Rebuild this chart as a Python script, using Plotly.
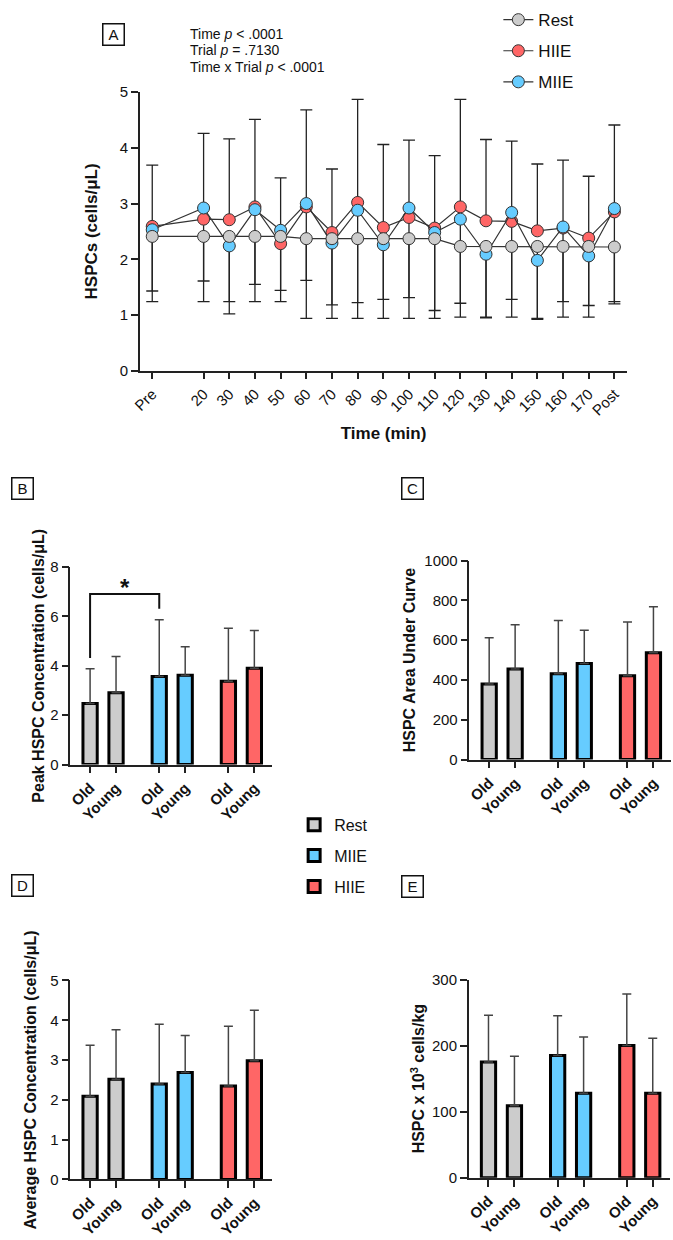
import plotly.graph_objects as go

W, H = 673, 1240
FONT = "Liberation Sans, Arial, Helvetica, sans-serif"

# ---------------- Panel A data ----------------
time_labels = ["Pre", "20", "30", "40", "50", "60", "70", "80", "90", "100",
               "110", "120", "130", "140", "150", "160", "170", "Post"]
time_min = [0, 20, 30, 40, 50, 60, 70, 80, 90, 100, 110, 120, 130, 140, 150, 160, 170, 180]

rest_mean = [2.41, 2.41, 2.41, 2.41, 2.41, 2.37, 2.37, 2.37, 2.37, 2.37,
             2.37, 2.23, 2.23, 2.23, 2.23, 2.23, 2.23, 2.22]
rest_sd_below = [1.17, 1.17, 1.17, 1.17, 1.17, 1.43, 1.43, 1.43, 1.43, 1.43,
                 1.43, 1.27, 1.27, 1.27, 1.29, 1.27, 1.27, 1.02]

hiie_mean = [2.59, 2.72, 2.71, 2.94, 2.28, 2.94, 2.48, 3.02, 2.57, 2.75,
             2.56, 2.94, 2.69, 2.68, 2.51, 2.56, 2.38, 2.85]
hiie_sd_above = [1.10, 1.54, 1.45, 1.57, 1.18, 1.74, 1.14, 1.85, 1.49, 1.39,
                 1.30, 1.93, 1.46, 1.44, 1.20, 1.22, 1.11, 1.56]

miie_mean = [2.53, 2.92, 2.24, 2.89, 2.52, 3.00, 2.29, 2.88, 2.26, 2.92,
             2.48, 2.72, 2.09, 2.84, 1.98, 2.58, 2.06, 2.91]
miie_sd_below = [1.10, 1.31, 1.22, 1.34, 1.08, 1.38, 1.11, 1.66, 0.98, 1.61,
                 1.40, 1.51, 1.14, 1.56, 1.06, 1.34, 0.89, 1.67]

stats_lines = ["Time <i>p</i> < .0001", "Trial <i>p</i> = .7130", "Time x Trial <i>p</i> < .0001"]

# ---------------- Panels B-E data (order: Rest Old, Rest Young, MIIE Old, MIIE Young, HIIE Old, HIIE Young)
groups = ["Rest", "MIIE", "HIIE"]
ages = ["Old", "Young"]

peak_mean = [2.47, 2.91, 3.57, 3.62, 3.37, 3.90]
peak_sd = [1.41, 1.46, 2.29, 1.15, 2.15, 1.53]

auc_mean = [380, 455, 431, 483, 422, 537]
auc_sd = [233, 223, 268, 167, 269, 231]

avg_mean = [2.09, 2.52, 2.40, 2.69, 2.35, 2.98]
avg_sd = [1.28, 1.24, 1.50, 0.93, 1.50, 1.27]

kg_mean = [175, 109, 185, 128, 200, 128]
kg_sd = [71, 75, 60, 85, 78, 83]

COL = {"Rest": "#cccccc", "MIIE": "#66ccff", "HIIE": "#ff6666"}
AX = "#222222"

# layout helpers (pixel -> paper)
def fx(p):
    return p / W

def fy(p):
    return 1 - p / H

GROUP_STEP = 2.665
def bar_pos(g, a):
    return g * GROUP_STEP + a

fig = go.Figure()

# ---------- Panel A: error bars first (drawn beneath markers) ----------
n = len(time_min)
for mean, up, down in [(hiie_mean, hiie_sd_above, [0] * n),
                       (miie_mean, [0] * n, miie_sd_below),
                       (rest_mean, [0] * n, rest_sd_below)]:
    fig.add_trace(go.Scatter(
        x=time_min, y=mean, mode="markers",
        marker=dict(size=1, color="rgba(0,0,0,0)"),
        error_y=dict(type="data", symmetric=False, array=up, arrayminus=down,
                     color=AX, thickness=1.3, width=6),
        showlegend=False, hoverinfo="skip", xaxis="x", yaxis="y"))

for name, mean, rank in [("HIIE", hiie_mean, 2), ("MIIE", miie_mean, 3), ("Rest", rest_mean, 1)]:
    fig.add_trace(go.Scatter(
        x=time_min, y=mean, mode="lines+markers", name=name,
        line=dict(color="#333333", width=1.2),
        marker=dict(size=12, color=COL[name], line=dict(color="#333333", width=1)),
        legend="legend", legendrank=rank, legendgroup="A_" + name,
        xaxis="x", yaxis="y"))

# ---------- Panels B-E bars ----------
panels = [("x2", "y2", peak_mean, peak_sd, True),
          ("x3", "y3", auc_mean, auc_sd, False),
          ("x4", "y4", avg_mean, avg_sd, False),
          ("x5", "y5", kg_mean, kg_sd, False)]
for xa, ya, means, sds, show in panels:
    for g, grp in enumerate(groups):
        fig.add_trace(go.Bar(
            x=[bar_pos(g, 0), bar_pos(g, 1)], y=means[2 * g:2 * g + 2],
            width=0.55, name=grp,
            marker=dict(color=COL[grp], line=dict(color="black", width=3)),
            error_y=dict(type="data", symmetric=False, array=sds[2 * g:2 * g + 2],
                         arrayminus=[0, 0], color="#444444", thickness=1.5, width=4.5),
            showlegend=show, legend="legend2", legendgroup="B_" + grp,
            xaxis=xa, yaxis=ya))

bar_ticks = [bar_pos(g, a) for g in range(3) for a in range(2)]
bar_ticktext = [ages[a] for g in range(3) for a in range(2)]

common = dict(showline=True, linecolor=AX, linewidth=1.5, ticks="outside",
              ticklen=7, tickwidth=1.5, tickcolor=AX, showgrid=False, zeroline=False)

def bar_x(dom):
    return dict(common, domain=dom, range=[-0.76, 7.0], tickvals=bar_ticks,
                ticktext=bar_ticktext, tickangle=-45,
                tickfont=dict(family=FONT, size=15, color="#111", weight="bold"))

def bar_y(dom, rng, dtick, title, standoff):
    return dict(common, domain=dom, range=rng, dtick=dtick, tick0=0,
                tickfont=dict(family=FONT, size=15, color="#111"),
                title=dict(text=title, standoff=standoff,
                           font=dict(family=FONT, size=16, color="#111", weight="bold")))

fig.update_layout(
    width=W, height=H, margin=dict(l=0, r=0, t=0, b=0),
    paper_bgcolor="white", plot_bgcolor="white", barmode="overlay",
    font=dict(family=FONT, color="#111"),
    xaxis=dict(common, domain=[fx(132.7), fx(626.6)], range=[-4.8, 185],
               tickvals=time_min, ticktext=time_labels, tickangle=-45,
               tickfont=dict(family=FONT, size=15, color="#111"),
               title=dict(text="Time (min)", standoff=10,
                          font=dict(family=FONT, size=17, color="#111", weight="bold")),
               anchor="y"),
    yaxis=dict(common, domain=[fy(366.7), fy(84.3)], range=[0, 5], dtick=1,
               tickfont=dict(family=FONT, size=15, color="#111"),
               title=dict(text="HSPCs (cells/μL)", standoff=18,
                          font=dict(family=FONT, size=17, color="#111", weight="bold")),
               anchor="x"),
    xaxis2=dict(bar_x([fx(62.2), fx(266.3)]), anchor="y2"),
    yaxis2=dict(bar_y([fy(766.1), fy(565.7)], [0, 8], 2, "Peak HSPC Concentration (cells/μL)", 2), anchor="x2"),
    xaxis3=dict(bar_x([fx(466.7), fx(670.8)]), anchor="y3"),
    yaxis3=dict(bar_y([fy(761.05), fy(559.3)], [0, 1000], 200, "HSPC Area Under Curve", 5), anchor="x3"),
    xaxis4=dict(bar_x([fx(62.2), fx(266.3)]), anchor="y4"),
    yaxis4=dict(bar_y([fy(1186.7), fy(985)], [0, 5], 1, "Average HSPC Concentration (cells/μL)", 10), anchor="x4"),
    xaxis5=dict(bar_x([fx(466.0), fx(670.1)]), anchor="y5"),
    yaxis5=dict(bar_y([fy(1185), fy(984)], [0, 300], 100, "HSPC x 10<sup>3</sup> cells/kg", 3), anchor="x5"),
    legend=dict(x=fx(496), y=fy(-7), xanchor="left", yanchor="top",
                font=dict(family=FONT, size=17, color="#111"),
                tracegroupgap=6, bgcolor="rgba(0,0,0,0)"),
    legend2=dict(x=fx(289), y=fy(810), xanchor="left", yanchor="top",
                 font=dict(family=FONT, size=16, color="#111"),
                 tracegroupgap=7, bgcolor="rgba(0,0,0,0)"),
)

# stats annotations panel A
for i, line in enumerate(stats_lines):
    fig.add_annotation(x=fx(181), y=fy(25 + 17 * i), xref="paper", yref="paper",
                       text=line, showarrow=False, xanchor="left", yanchor="middle",
                       font=dict(family=FONT, size=14, color="#111"))

# panel letters
for letter, cx, cy in [("A", 105.5, 25.5), ("B", 14, 486), ("C", 408.5, 486),
                       ("D", 13.5, 889), ("E", 409, 889.5)]:
    fig.add_annotation(x=fx(cx), y=fy(cy), xref="paper", yref="paper", text=letter,
                       showarrow=False, xanchor="center", yanchor="middle",
                       width=16, height=16, borderpad=2, bordercolor="#111", borderwidth=1.5,
                       font=dict(family=FONT, size=15, color="#111"))

# significance bracket in panel B (Rest Old vs MIIE Old)
b_left, b_right = bar_pos(0, 0), bar_pos(1, 0)
fig.add_shape(type="path", xref="x2", yref="y2",
              path=f"M {b_left},4.31 L {b_left},6.9 L {b_right},6.9 L {b_right},6.31",
              line=dict(color="#111", width=2))
fig.add_annotation(x=(b_left + b_right) / 2, y=6.55, xref="x2", yref="y2", text="<b>*</b>",
                   showarrow=False, yanchor="bottom",
                   font=dict(family=FONT, size=24, color="#111"))

fig.write_html("out.html")
